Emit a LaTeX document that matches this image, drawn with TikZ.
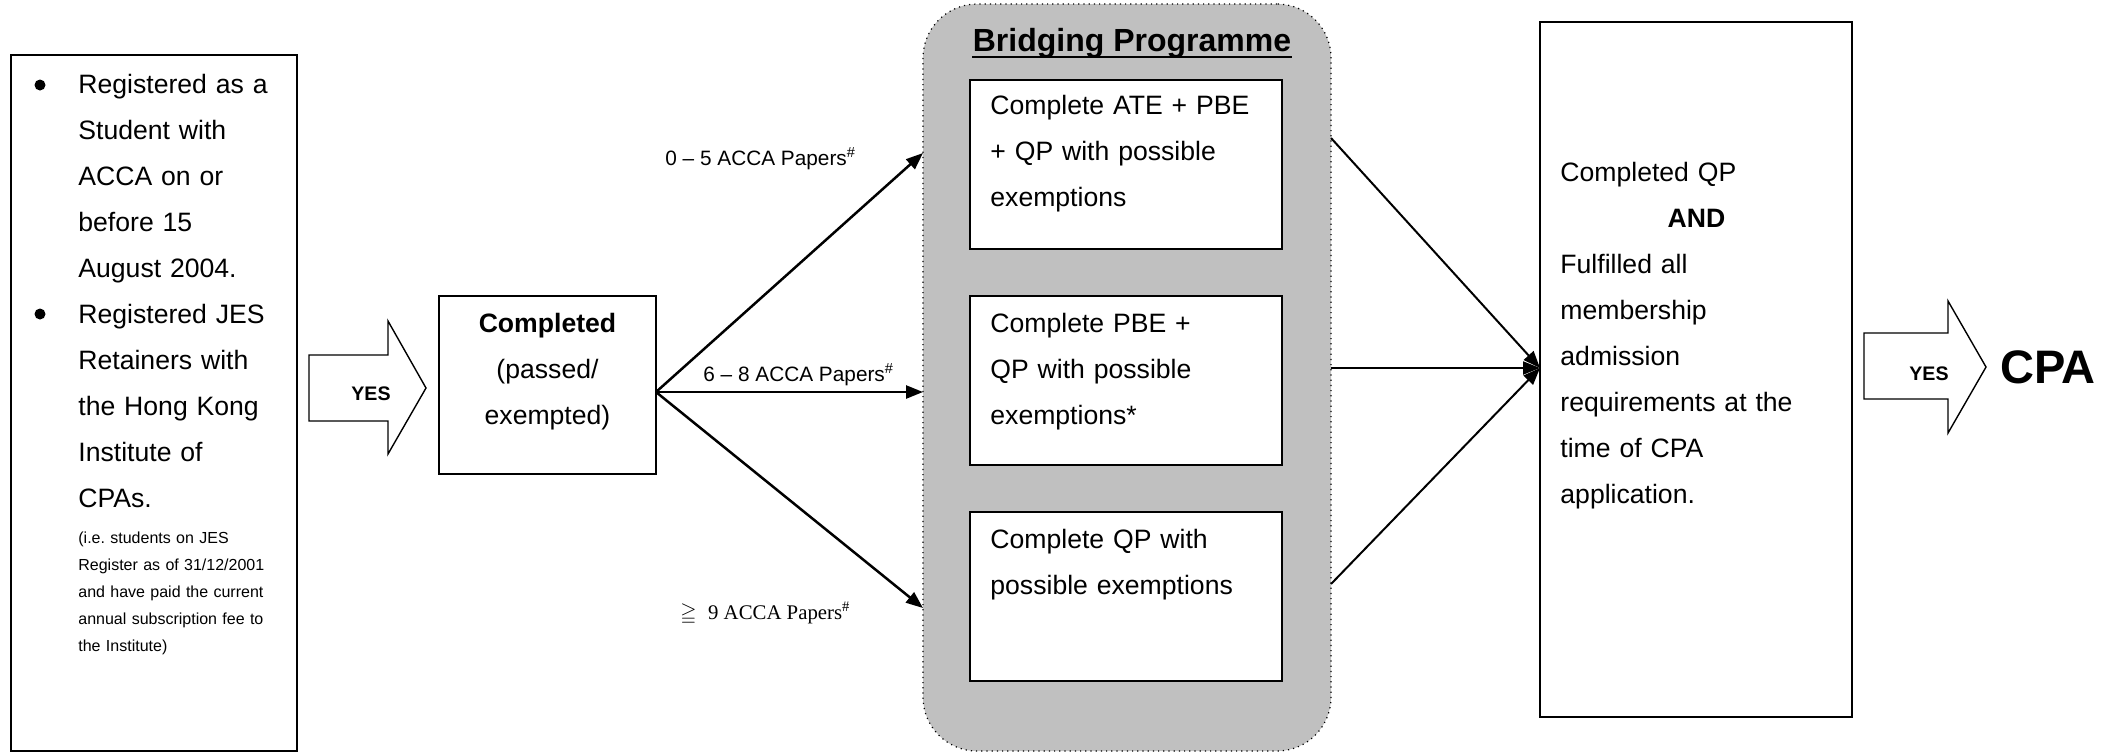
\documentclass[tikz,border=0pt]{standalone}
\usepackage{amssymb}
\usepackage{fontspec}
\setmainfont{Liberation Sans}
\newfontfamily\seriffont{Liberation Serif}
\usetikzlibrary{arrows.meta,calc}
\definecolor{bpgray}{HTML}{C0C0C0}
\frenchspacing
\begin{document}
\begin{tikzpicture}[x=0.5pt,y=-0.5pt,
  box/.style={draw, line width=0.8pt, inner sep=0pt, outer sep=0pt, fill=white},
  body/.style={font=\fontsize{13.3}{23}\selectfont, inner sep=0pt, align=left, anchor=base west, text width=150pt},
  smalltxt/.style={font=\fontsize{8}{13.5}\selectfont, inner sep=0pt, align=left, anchor=base west, text width=120pt},
  lbl/.style={font=\fontsize{10.4}{12}\selectfont, inner sep=0pt, anchor=base west},
  bulletdot/.style={circle, fill=black, inner sep=0pt, minimum size=5.5pt},
  yeslbl/.style={font=\fontsize{9.8}{11}\selectfont\bfseries, inner sep=0pt},
  bigarrow/.style={draw, line width=0.7pt, fill=white, line join=miter},
  conn/.style={line width=1.25pt, -{Triangle[length=8.5pt,width=6.5pt]}},
  connb/.style={line width=1pt, -{Triangle[length=8.5pt,width=6.5pt]}},
]
\useasboundingbox (0,0) rectangle (2118,752);

% left eligibility box
\node[box, line width=0.7pt, minimum width=143pt, minimum height=348pt] (elig) at (154,403) {};
\node[bulletdot] (b1) at (40,85) {};
\node[body] (t1) at (78,93) {Registered as a\\Student with\\ACCA on or\\before 15\\August 2004.};
\node[bulletdot] (b2) at (40,314) {};
\node[body] (t2) at (78,323) {Registered JES\\Retainers with\\the Hong Kong\\Institute of\\CPAs.};
\node[smalltxt] (t3) at (78,543) {(i.e. students on JES\\Register as of 31/12/2001\\and have paid the current\\annual subscription fee to\\the Institute)};

% YES arrow 1
\draw[bigarrow] (309,355) -- (388,355) -- (388,321) -- (426,388) -- (388,454) -- (388,421) -- (309,421) -- cycle;
\node[yeslbl] (yes1) at (371,394) {YES};

% completed box
\node[box, minimum width=108.5pt, minimum height=89pt] (comp) at (547.5,385) {};
\node[body, align=center, anchor=base, text width=100pt] (compt) at (547.5,332) {\textbf{Completed}\\(passed/\\exempted)};
\coordinate (fork) at (656,392);

% bridging programme
\node[draw, dotted, line width=0.6pt, fill=bpgray, rounded corners=27pt, minimum width=204pt, minimum height=373.5pt, inner sep=0pt, outer sep=0pt] (bp) at (1127,377.5) {};
\node[font=\fontsize{16}{19}\selectfont\bfseries, inner sep=0pt, anchor=base] (bpt) at (1132,51) {Bridging Programme};
\draw[line width=1.35pt] ($(bpt.base west)+(0,6)$) -- ($(bpt.base east)+(0,6)$);

\node[box, minimum width=156pt, minimum height=84.5pt] (o1) at (1126,164.5) {};
\node[box, minimum width=156pt, minimum height=84.5pt] (o2) at (1126,380.5) {};
\node[box, minimum width=156pt, minimum height=84.5pt] (o3) at (1126,596.5) {};
\node[body] (o1t) at (990,114) {Complete ATE + PBE\\+ QP with possible\\exemptions};
\node[body] (o2t) at (990,332) {Complete PBE +\\QP with possible\\exemptions*};
\node[body] (o3t) at (990,548) {Complete QP with\\possible exemptions};

% connectors from completed
\draw[conn] (fork) -- (bp.west |- 0,153);
\draw[conn] (fork) -- (bp.west |- fork);
\draw[conn] (fork) -- (bp.west |- 0,608);
\node[lbl] (l1) at (665,165) {0 – 5 ACCA Papers\textsuperscript{\#}};
\node[lbl] (l2) at (703,381) {6 – 8 ACCA Papers\textsuperscript{\#}};
\node[lbl] (l3) at (680,619) {$\geqq$\ \ {\seriffont 9 ACCA Papers\textsuperscript{\#}}};

% final box
\node[box, line width=0.7pt, minimum width=156pt, minimum height=347.5pt] (fin) at (1696,369.5) {};
\node[body, text width=136pt] (fint) at (1560,181) {Completed QP\\\makebox[\linewidth][c]{\textbf{AND}}\\Fulfilled all\\membership\\admission\\requirements at the\\time of CPA\\application.};

\draw[connb] (bp.east |- 0,138) -- (fin.west |- 0,368);
\draw[connb] (bp.east |- 0,368) -- (fin.west |- 0,368);
\draw[connb] (bp.east |- 0,584) -- (fin.west |- 0,368);

% YES arrow 2
\draw[bigarrow] (1864,333) -- (1948,333) -- (1948,301) -- (1986,367) -- (1948,433) -- (1948,399) -- (1864,399) -- cycle;
\node[yeslbl] (yes2) at (1929,374) {YES};
\node[font=\fontsize{23.5}{28}\selectfont\bfseries, inner sep=0pt] (cpa) at (2048,367) {CPA};
\end{tikzpicture}
\end{document}
